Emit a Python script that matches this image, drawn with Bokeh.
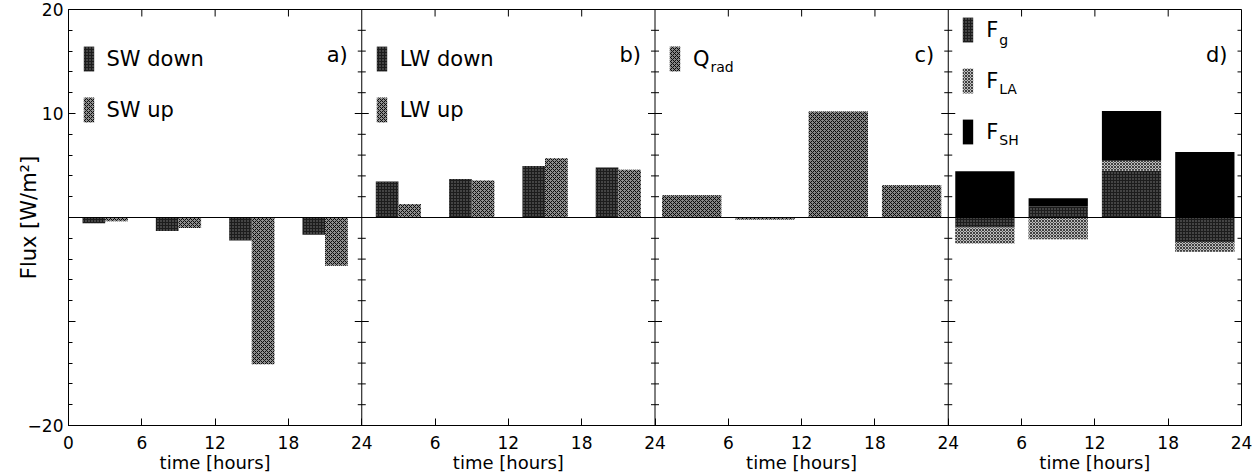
import numpy as np
from bokeh.plotting import figure
from bokeh.models import (Range1d, LinearAxis, FixedTicker, Span, Label, Legend,
                          LegendItem)
from bokeh.embed import file_html
from bokeh.resources import INLINE

# ---------------- data ----------------
hours = [3, 9, 15, 21]                       # centre of each 6-hour block
panel_ticks = [0, 6, 12, 18, 24]
panel_tick_labels = ["0", "6", "12", "18", "24"]
y_ticks = [-20, -10, 0, 10, 20]
y_tick_labels = ["−20", "", "", "10", "20"]
panel_tags = ["a)", "b)", "c)", "d)"]
x_label = "time [hours]"
y_label = "Flux [W/m²]"

sw_down = [-0.55, -1.3, -2.2, -1.65]
sw_up = [-0.35, -1.0, -14.1, -4.65]
lw_down = [3.45, 3.7, 4.95, 4.8]
lw_up = [1.3, 3.55, 5.7, 4.6]
q_rad = [2.15, -0.2, 10.2, 3.1]
f_g = [-0.95, 1.05, 4.5, -2.35]
f_la = [-1.55, -2.1, 0.95, -0.95]
f_sh = [4.45, 0.8, 4.8, 6.3]

legend_a = ["SW down", "SW up"]
legend_b = ["LW down", "LW up"]
legend_c = [("Q", "rad")]
legend_d = [("F", "g"), ("F", "LA"), ("F", "SH")]

# ---------------- style ----------------
FONT = "DejaVu Sans"
FW, FH = 1173, 416
SPAN = 24
NP = 4
PXH = FW / (SPAN * NP)
PXY = FH / 40.0
TICK_FS = "17px"
LAB_FS = "18px"
YLAB_FS = "21px"
LEG_FS = "21px"
SUB_FS = "14px"

DARK = dict(fill_color="#1c1c1c", hatch_pattern="dot", hatch_color="#808080",
            hatch_scale=3, hatch_weight=1, line_color=None)
MID = dict(fill_color="#8e8e8e", hatch_pattern="x", hatch_color="#0c0c0c",
           hatch_scale=4, hatch_weight=1, line_color=None)
MIDQ = dict(fill_color="#868686", hatch_pattern="x", hatch_color="#0a0a0a",
            hatch_scale=4, hatch_weight=1, line_color=None)
LIGHT = dict(fill_color="#bdbdbd", hatch_pattern="x", hatch_color="#404040",
             hatch_scale=3, hatch_weight=1, line_color=None)
BLACK = dict(fill_color="black", line_color=None)

PAIR_W = 1.85
SINGLE_W = 4.85
MAJ, MIN_ = 7, 4

p = figure(frame_width=FW, frame_height=FH, x_range=Range1d(0, SPAN * NP),
           y_range=Range1d(-20, 20), x_axis_type=None, y_axis_type=None,
           output_backend="svg", toolbar_location=None,
           min_border_left=68, min_border_right=19, min_border_top=9, min_border_bottom=0)
p.grid.visible = False
p.outline_line_color = "black"
p.outline_line_width = 1
p.background_fill_color = "white"
p.border_fill_color = "white"

# ---------------- axes ----------------
xt, xo = [], {}
for k in range(NP):
    for t, lab in zip(panel_ticks, panel_tick_labels):
        v = t + k * SPAN
        if v not in xo:
            xt.append(v)
            xo[v] = lab
x_ticker = FixedTicker(ticks=xt, minor_ticks=[])
y_minor = list(np.arange(-20, 21, 2))
y_ticker = FixedTicker(ticks=y_ticks, minor_ticks=y_minor)


def style_axis(ax):
    ax.axis_line_color = "black"
    ax.major_tick_line_color = "black"
    ax.minor_tick_line_color = "black"
    ax.major_tick_out = 0
    ax.minor_tick_out = 0
    ax.major_label_text_font = FONT
    ax.major_label_text_font_size = TICK_FS
    ax.major_label_text_color = "black"
    ax.axis_label_text_font = FONT
    ax.axis_label_text_font_size = LAB_FS
    ax.axis_label_text_font_style = "normal"
    ax.axis_label_text_color = "black"


bottom = LinearAxis(ticker=x_ticker, major_label_overrides=xo)
style_axis(bottom)
bottom.major_tick_in = MAJ
bottom.minor_tick_in = 0
bottom.major_label_standoff = 10
p.add_layout(bottom, "below")

centres = [SPAN / 2 + k * SPAN for k in range(NP)]
bottom2 = LinearAxis(ticker=FixedTicker(ticks=centres, minor_ticks=[]),
                     major_label_overrides={c: x_label for c in centres})
style_axis(bottom2)
bottom2.major_label_text_font_size = LAB_FS
bottom2.axis_line_color = None
bottom2.major_tick_line_color = None
bottom2.minor_tick_line_color = None
bottom2.major_label_standoff = 0
p.add_layout(bottom2, "below")

yo = {t: lab for t, lab in zip(y_ticks, y_tick_labels)}
left = LinearAxis(ticker=y_ticker, major_label_overrides=yo, axis_label=y_label)
style_axis(left)
left.axis_label_text_font_size = YLAB_FS
left.major_tick_in = MAJ
left.minor_tick_in = MIN_
left.major_label_standoff = 5
left.axis_label_standoff = -16
p.add_layout(left, "left")

# panel dividers and zero line
for k in range(1, NP):
    p.add_layout(Span(location=k * SPAN, dimension="height", line_color="black", line_width=1))
p.add_layout(Span(location=0, dimension="width", line_color="black", line_width=1))

# inward tick marks on dividers, right edge and top edge
tx0, tx1, ty0, ty1 = [], [], [], []
XMAX = SPAN * NP
for yv in y_minor:
    L = MAJ if yv in y_ticks else MIN_
    for k in range(1, NP):
        b = k * SPAN
        tx0.append(b - L / PXH); tx1.append(b + L / PXH); ty0.append(yv); ty1.append(yv)
    tx0.append(XMAX - L / PXH); tx1.append(XMAX); ty0.append(yv); ty1.append(yv)
for v in xt:
    if v % SPAN:
        tx0.append(v); tx1.append(v); ty0.append(20); ty1.append(20 - MAJ / PXY)
p.segment(x0=tx0, x1=tx1, y0=ty0, y1=ty1, line_color="black", line_width=1)

# ---------------- bars ----------------
h = np.array(hours, dtype=float)


def pair(k, down, up):
    x = h + k * SPAN
    r1 = p.vbar(x=x - PAIR_W / 2, width=PAIR_W, bottom=0, top=down, **DARK)
    r2 = p.vbar(x=x + PAIR_W / 2, width=PAIR_W, bottom=0, top=up, **MID)
    return r1, r2


ra = pair(0, sw_down, sw_up)
rb = pair(1, lw_down, lw_up)
rc = p.vbar(x=h + 2 * SPAN, width=SINGLE_W, bottom=0, top=q_rad, **MIDQ)

# stacked (positive upward, negative downward) for panel d
stack = [np.array(f_g), np.array(f_la), np.array(f_sh)]
styles = [DARK, LIGHT, BLACK]
pos = np.zeros(len(hours))
neg = np.zeros(len(hours))
rd = []
for vals, st in zip(stack, styles):
    bot = np.where(vals >= 0, pos, neg)
    topv = bot + vals
    pos = np.where(vals >= 0, topv, pos)
    neg = np.where(vals < 0, topv, neg)
    rd.append(p.vbar(x=h + 3 * SPAN, width=SINGLE_W, bottom=bot, top=topv, **st))

# ---------------- legends ----------------
LEG_X = 13.5
GW, GH, GS, STAND = 13, 31, 20, 12


def add_legend(k, rends, labels, top_px):
    n = len(rends)
    hgt = n * GH + (n - 1) * GS
    leg = Legend(items=[LegendItem(label=l, renderers=[r]) for r, l in zip(rends, labels)],
                 location=(LEG_X + k * FW / NP, FH - top_px - hgt),
                 orientation="vertical", glyph_width=GW, glyph_height=GH, spacing=GS,
                 padding=0, margin=0, border_line_alpha=0, background_fill_alpha=0,
                 label_standoff=STAND, label_text_font=FONT, label_text_font_size=LEG_FS,
                 label_text_color="black")
    p.add_layout(leg, "center")


TOP_ABC, TOP_D = 34, 5
add_legend(0, list(ra), legend_a, TOP_ABC)
add_legend(1, list(rb), legend_b, TOP_ABC)
add_legend(2, [rc], [m for m, s in legend_c], TOP_ABC)
add_legend(3, rd, [m for m, s in legend_d], TOP_D)

TXT_X = (LEG_X + GW + STAND) / PXH      # hours from panel start where legend text begins


def txt(x, y, s, fs=LEG_FS, align="left", xoff=0, yoff=0):
    p.add_layout(Label(x=x, y=y, text=s, x_offset=xoff, y_offset=yoff,
                       text_align=align, text_baseline="middle", text_font=FONT,
                       text_font_size=fs, text_color="black"))


def row_centre(top_px, i):
    # data-y of the i-th legend row centre
    return 20 - (top_px + i * (GH + GS) + GH / 2) / PXY


for (main, sub) in legend_c:
    txt(TXT_X + 2 * SPAN, row_centre(TOP_ABC, 0) - 8 / PXY, sub, fs=SUB_FS, xoff=17)

for i, ((main, sub), drop) in enumerate(zip(legend_d, [10, 8, 8])):
    txt(TXT_X + 3 * SPAN, row_centre(TOP_D, i) - drop / PXY, sub, fs=SUB_FS, xoff=12.5)

for k, tag in enumerate(panel_tags):
    txt(22.85 + k * SPAN, 15.6, tag, align="right")

open("out.html", "w").write(file_html(p, INLINE))
